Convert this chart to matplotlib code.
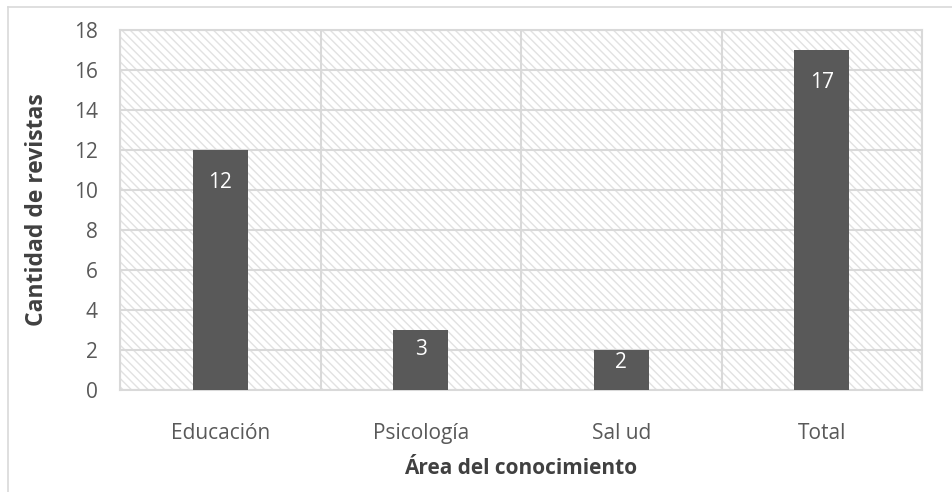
import matplotlib
matplotlib.use("Agg")
import matplotlib.pyplot as plt
from matplotlib.lines import Line2D

categories = ["Educación", "Psicología", "Sal ud", "Total"]
values = [12, 3, 2, 17]
yticks = [0, 2, 4, 6, 8, 10, 12, 14, 16, 18]
ylabel = "Cantidad de revistas"
xlabel = "Área del conocimiento"

FONT = ['Open Sans', 'DejaVu Sans']
plt.rcParams['font.family'] = FONT
plt.rcParams['hatch.linewidth'] = 1.0

fig = plt.figure(figsize=(9.52, 4.92), dpi=100)
ax = fig.add_axes([120/952, 1-390/492, (922-120)/952, 360/492])

ax.patch.set_facecolor('white')
ax.patch.set_hatch('\\\\\\\\')
ax.patch.set_edgecolor('#e2e2e2')

x = list(range(len(categories)))
bars = ax.bar(x, values, width=0.275, color='#595959', zorder=3)

ax.set_xlim(-0.5, len(categories) - 0.5)
ax.set_ylim(0, 18)
ax.set_yticks(yticks)
ax.set_xticks(x)
ax.set_xticklabels(categories)
ax.set_xticks([i + 0.5 for i in range(-1, len(categories))], minor=True)
ax.tick_params(which='both', length=0)
ax.tick_params(axis='y', pad=16, labelsize=15, labelcolor='#595959')
ax.tick_params(axis='x', pad=24, labelsize=15, labelcolor='#595959')

ax.grid(axis='y', which='major', color='#d9d9d9', linewidth=1.5, zorder=1)
ax.grid(axis='x', which='minor', color='#d9d9d9', linewidth=1.5, zorder=1)
ax.set_axisbelow(True)
for s in ax.spines.values():
    s.set_color('#d9d9d9')
    s.set_linewidth(1.5)

for xi, v in zip(x, values):
    ypos = max(v - 1.65, v * 0.68)
    ax.text(xi, ypos, str(v), ha='center', va='center', color='white',
            fontsize=15, zorder=4)

ax.set_ylabel(ylabel, fontsize=16.5, fontweight='bold', color='#404040', labelpad=18)
ax.set_xlabel(xlabel, fontsize=15, fontweight='bold', color='#404040', labelpad=10)

fig.add_artist(Line2D([8/952, 8/952], [0, 1-7/492], transform=fig.transFigure,
                      color='#d9d9d9', linewidth=1.2))
fig.add_artist(Line2D([8/952, 1], [1-7/492, 1-7/492], transform=fig.transFigure,
                      color='#d9d9d9', linewidth=1.2))

fig.savefig("out.png", dpi=100)
